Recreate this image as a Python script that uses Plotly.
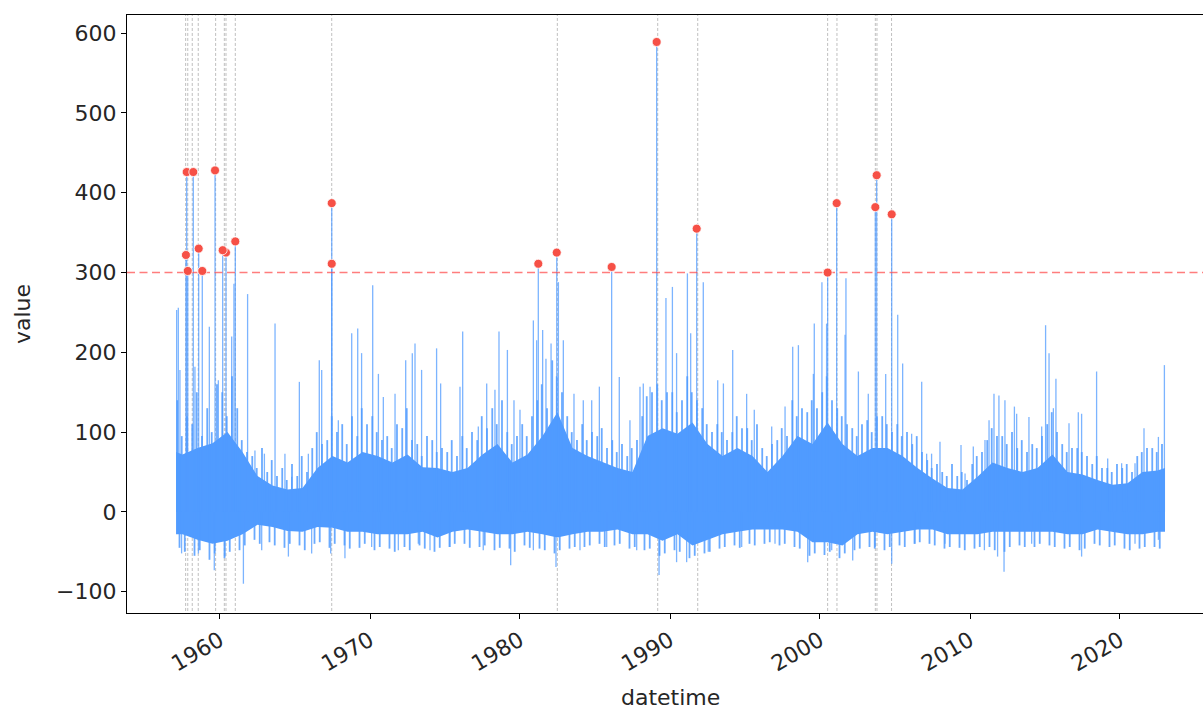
import datetime as dt
import plotly.graph_objects as go

# ---------------- data ----------------
# solid core of the series: per-year envelope (fractional year, upper, lower)
band_years = [1957.07] + [y + 0.5 for y in range(1957, 2023)] + [2023.0]
band_upper = [75, 72, 80, 86, 100, 75, 45, 33, 28, 30, 55, 70, 62, 75, 70, 62, 72, 56, 55,
              50, 55, 72, 85, 62, 72, 95, 125, 80, 70, 62, 55, 50, 95, 105, 98, 112, 85, 70,
              80, 70, 50, 70, 95, 85, 112, 85, 70, 80, 80, 70, 55, 42, 30, 28, 44, 62, 55,
              50, 55, 72, 50, 47, 40, 34, 36, 50, 52, 55]
band_lower = [-28, -28, -35, -40, -36, -28, -16, -19, -24, -25,
              -19, -20, -25, -25, -28, -28, -28, -25, -32, -25,
              -22, -25, -28, -28, -25, -28, -32, -28, -25, -25,
              -22, -28, -28, -36, -28, -42, -35, -28, -25, -22,
              -22, -22, -25, -38, -38, -42, -28, -25, -28, -25,
              -22, -22, -28, -28, -28, -25, -25, -25, -25, -25,
              -28, -28, -22, -25, -28, -28, -25, -25]

# dense upper texture: three readings per year (early, mid, late), 1957..2022
dense_first_year = 1957
dense_high = [[140, 95, 120], [110, 150, 95], [130, 100, 160], [150, 120, 170], [130, 90, 75],
              [70, 55, 80], [50, 65, 45], [55, 40, 60], [45, 70, 50], [80, 100, 85],
              [90, 120, 100], [110, 85, 120], [95, 130, 110], [120, 100, 90], [95, 80, 110],
              [105, 130, 90], [85, 70, 95], [90, 75, 80], [75, 90, 70], [95, 80, 100],
              [90, 120, 105], [130, 110, 140], [100, 85, 95], [110, 95, 120], [140, 160, 130],
              [190, 170, 150], [120, 100, 90], [110, 90, 100], [95, 105, 80], [90, 75, 85],
              [70, 80, 90], [120, 145, 150], [160, 140, 150], [150, 125, 140], [170, 150, 140],
              [130, 110, 100], [110, 100, 90], [100, 120, 105], [105, 90, 110], [80, 70, 85],
              [90, 105, 95], [140, 120, 130], [125, 140, 130], [150, 170, 140], [130, 120, 110],
              [105, 95, 110], [115, 100, 120], [120, 110, 100], [110, 95, 100], [85, 95, 75],
              [65, 55, 60], [50, 45, 60], [45, 50, 40], [60, 70, 75], [90, 105, 95],
              [95, 85, 100], [80, 90, 75], [85, 80, 95], [110, 125, 100], [85, 75, 80],
              [80, 75, 70], [60, 70, 55], [55, 50, 60], [55, 60, 50], [70, 75, 80],
              [80, 75, 85]]
dense_high_offsets = [0.15, 0.45, 0.8]
# dense lower texture: two readings per year, 1957..2022
dense_low = [[-45, -50], [-55, -48], [-60, -52], [-58, -50], [-48, -42], [-35, -40], [-38, -42],
             [-45, -40], [-42, -48], [-40, -38], [-45, -40], [-42, -46], [-45, -40], [-48, -44],
             [-46, -50], [-44, -48], [-42, -46], [-50, -45], [-44, -40], [-40, -45], [-44, -42],
             [-48, -45], [-46, -50], [-42, -45], [-46, -48], [-52, -48], [-46, -44], [-44, -42],
             [-40, -44], [-42, -40], [-46, -44], [-48, -46], [-55, -52], [-48, -50], [-58, -55],
             [-52, -50], [-46, -44], [-42, -45], [-40, -42], [-40, -38], [-42, -40], [-44, -46],
             [-55, -52], [-54, -50], [-58, -52], [-48, -46], [-44, -46], [-48, -44], [-42, -44],
             [-40, -38], [-40, -42], [-46, -44], [-45, -48], [-46, -44], [-44, -48], [-50, -44],
             [-42, -44], [-44, -40], [-42, -44], [-46, -44], [-48, -46], [-40, -42], [-44, -42],
             [-46, -48], [-46, -44], [-44, -46]]
dense_low_offsets = [0.3, 0.65]

# individual tall peaks of the series (fractional year, value)
peak_years = [1957.11, 1957.22, 1957.33, 1958.33, 1959.29, 1959.89, 1960.78, 1960.93,
              1961.84, 1962.33, 1962.96, 1963.67, 1964.33, 1964.78, 1965.29, 1965.89,
              1966.62, 1966.78, 1967.89, 1968.78, 1969.18, 1969.44, 1970.18, 1970.56,
              1970.89, 1971.67, 1972.38, 1972.82, 1973.0, 1973.44,
              1974.44, 1974.71, 1976.0, 1976.18, 1977.22, 1977.78, 1978.33, 1978.6,
              1979.16, 1979.6, 1980.0, 1980.89, 1981.11, 1981.51, 1981.73, 1982.07,
              1982.56, 1982.89, 1983.6, 1984.22, 1984.78, 1985.29, 1986.62, 1987.33,
              1988.0, 1988.22, 1988.67, 1989.73, 1990.16, 1990.44,
              1991.16, 1991.38, 1992.22, 1993.18, 1993.56, 1994.18, 1995.11, 1995.62,
              1996.78, 1997.67, 1998.18, 1998.56, 1999.56, 1999.62, 2000.13, 2000.44,
              2001.67, 2001.73, 2002.56, 2003.22, 2004.38, 2005.18, 2005.51, 2006.11,
              2006.78, 2007.44,
              2007.11, 2008.0, 2009.4, 2009.67, 2010.22, 2011.0, 2011.27, 2011.6, 2011.93,
              2012.33, 2012.96, 2013.11, 2013.93, 2014.78, 2015.04, 2015.27, 2015.56,
              2015.73, 2016.6, 2017.22, 2017.44, 2018.44, 2019.18, 2020.11, 2021.0,
              2021.6, 2022.56, 2022.96]
peak_values = [253, 256, 178, 182, 232, 165, 220, 286,
               273, 77, 73, 236, 73, 44, 163, 73,
               190, 178, 115, 224, 230, 199, 284, 173,
               144, 148, 190, 199, 211, 178,
               205, 161, 157, 226, 107, 161, 153, 226,
               203, 140, 128, 240, 215, 228, 192, 211,
               288, 215, 148, 140, 140, 157, 169, 115,
               157, 161, 157, 268, 282, 199,
               299, 224, 288, 165, 161, 203, 148, 128,
               107, 132, 207, 209, 173, 236, 288, 236,
               222, 293, 176, 148, 173, 247, 186, 98,
               163, 73,
               73, 88, 84, 48, 82, 90, 115, 148, 146,
               140, 132, 123, 119, 107, 234, 199, 130,
               167, 111, 125, 123, 176, 67, 61, 61,
               105, 94, 184]

# individual deep dips of the series (fractional year, value)
dip_years = [1957.44, 1958.56, 1959.62, 1960.33, 1961.56, 1962.78, 1964.56, 1966.11,
             1967.38, 1968.33, 1970.11, 1971.89, 1973.22, 1974.0, 1975.33, 1977.55,
             1979.38, 1980.89, 1982.4, 1984.0, 1985.78, 1987.78, 1989.27, 1990.44,
             1991.11, 1992.55, 1994.78, 1997.0, 1999.18, 2000.78, 2002.18, 2003.67,
             2004.78, 2006.33, 2008.33, 2010.96, 2011.84, 2012.27, 2014.11, 2017.44,
             2021.0, 2022.56]
dip_values = [-52, -52, -73, -56, -90, -48, -56, -52,
              -52, -58, -44, -48, -40, -48, -44, -48,
              -67, -48, -69, -48, -44, -48, -79, -63,
              -63, -50, -44, -40, -63, -48, -61, -44,
              -65, -40, -40, -48, -56, -75, -40, -56,
              -40, -35]

# outliers above the threshold (fractional year, value)
outlier_years = [1957.78, 1958.22, 1959.67, 1957.73, 1958.58, 1957.85, 1958.82, 1960.40,
                 1960.18, 1961.02, 1967.45, 1967.45, 1981.22, 1982.45, 1986.11, 1989.11,
                 1991.78, 2000.51, 2001.11, 2003.78, 2003.69, 2004.78]
outlier_values = [426, 426, 428, 322, 330, 302, 302, 325,
                  328, 339, 387, 311, 311, 325, 307, 589,
                  355, 300, 387, 422, 382, 373]

# marked dates (vertical guide lines)
event_years = [1957.71, 1957.85, 1958.15, 1958.55, 1959.71, 1960.29, 1960.40, 1961.02,
               1967.45, 1982.49, 1989.18, 1991.85, 2000.51, 2001.13, 2003.69, 2003.80,
               2004.77]

threshold = 300
x_range_years = [1953.8, 2025.533]
y_range = [-126.7, 622.8]
tick_years = [1960, 1970, 1980, 1990, 2000, 2010, 2020]
y_ticks = [-100, 0, 100, 200, 300, 400, 500, 600]


def fy(y):
    yr = int(y)
    start = dt.datetime(yr, 1, 1)
    end = dt.datetime(yr + 1, 1, 1)
    return start + (end - start) * (y - yr)


BLUE = "rgb(80,155,255)"
fig = go.Figure()

# vertical guide lines
vx, vy = [], []
for e in event_years:
    vx += [fy(e), fy(e), None]
    vy += [y_range[0] - 10, y_range[1] + 10, None]
fig.add_trace(go.Scatter(x=vx, y=vy, mode="lines",
                         line=dict(color="rgba(170,170,170,0.75)", width=1, dash="3px,2px"),
                         hoverinfo="skip", showlegend=False))

# solid core
bx = [fy(y) for y in band_years]
fig.add_trace(go.Scatter(x=bx, y=band_lower, mode="lines", line=dict(width=0, color=BLUE),
                         hoverinfo="skip", showlegend=False))
fig.add_trace(go.Scatter(x=bx, y=band_upper, mode="lines", line=dict(width=0, color=BLUE),
                         fill="tonexty", fillcolor=BLUE, hoverinfo="skip", showlegend=False))

# dense texture
tx, ty = [], []
for i, trip in enumerate(dense_high):
    for off, v in zip(dense_high_offsets, trip):
        d = fy(dense_first_year + i + off)
        tx += [d, d, None]
        ty += [0, v, None]
for i, pair in enumerate(dense_low):
    for off, v in zip(dense_low_offsets, pair):
        d = fy(dense_first_year + i + off)
        tx += [d, d, None]
        ty += [0, v, None]
fig.add_trace(go.Scatter(x=tx, y=ty, mode="lines",
                         line=dict(color="rgba(80,155,255,0.85)", width=1.8),
                         hoverinfo="skip", showlegend=False))

# peaks, dips and outlier spikes
sx, sy = [], []
for y, v in zip(peak_years + dip_years + outlier_years,
                peak_values + dip_values + outlier_values):
    sx += [fy(y), fy(y), None]
    sy += [0, v, None]
fig.add_trace(go.Scatter(x=sx, y=sy, mode="lines",
                         line=dict(color="rgba(80,155,255,0.75)", width=1.3),
                         hoverinfo="skip", showlegend=False))

# threshold
fig.add_trace(go.Scatter(x=[fy(x_range_years[0]), fy(x_range_years[1] + 1)],
                         y=[threshold, threshold], mode="lines",
                         line=dict(color="rgba(255,70,70,0.7)", width=1.6, dash="8px,4.5px"),
                         hoverinfo="skip", showlegend=False))

# outlier markers
fig.add_trace(go.Scatter(x=[fy(y) for y in outlier_years], y=outlier_values, mode="markers",
                         marker=dict(color="rgb(246,80,70)", size=9,
                                     line=dict(color="white", width=0.8)),
                         showlegend=False))

font = dict(family="DejaVu Sans", size=22, color="#262626")
fig.update_layout(
    width=1203, height=711,
    margin=dict(l=127, r=0, t=15, b=98),
    paper_bgcolor="white", plot_bgcolor="white",
    font=font,
    xaxis=dict(range=[fy(x_range_years[0]), fy(x_range_years[1])], type="date",
               tickvals=[fy(t) for t in tick_years], ticktext=[str(t) for t in tick_years],
               tickangle=-30, ticks="outside", ticklen=5, tickwidth=1, tickcolor="black",
               showline=True, linecolor="black", linewidth=1.2, mirror=True,
               showgrid=False, zeroline=False, tickfont=font),
    yaxis=dict(range=y_range, tickvals=y_ticks, ticks="outside", ticklen=5, tickwidth=1,
               tickcolor="black", showline=True, linecolor="black", linewidth=1.2,
               showgrid=False, zeroline=False, tickfont=font),
    annotations=[
        dict(text="datetime", x=(670 - 127) / 1076, y=(613 - 697) / 598, xref="paper",
             yref="paper", showarrow=False, xanchor="center", yanchor="middle", font=font),
        dict(text="value", x=(22 - 127) / 1076, y=0.5, xref="paper", yref="paper",
             showarrow=False, textangle=-90, xanchor="center", yanchor="middle", font=font),
    ],
)

fig.write_html("out.html")
